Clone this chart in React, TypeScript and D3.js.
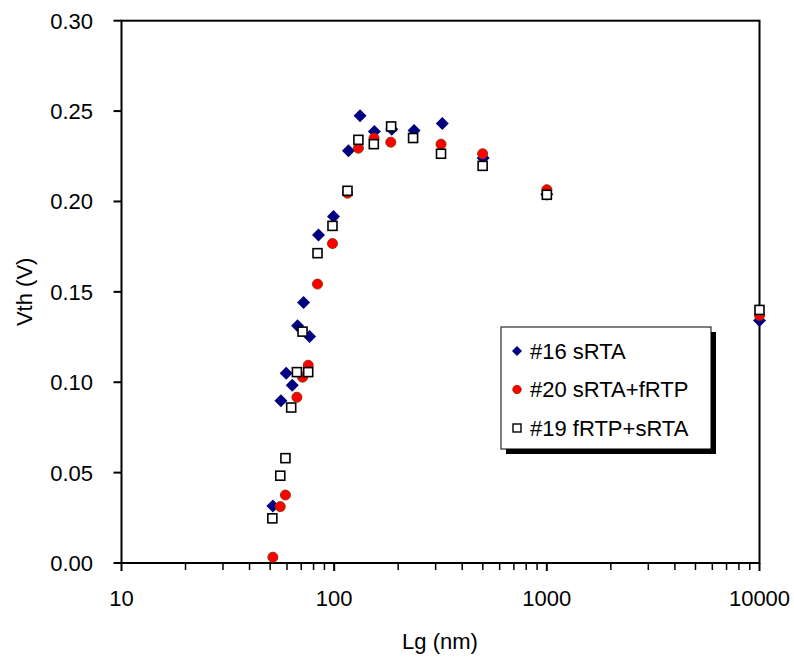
import React from "react";
import * as d3 from "d3";

const xTicks = [10, 100, 1000, 10000];
const yTicks = [0, 0.05, 0.1, 0.15, 0.2, 0.25, 0.3];

const s16X = [51.5, 56.2, 59.5, 63.5, 67.3, 71.8, 76.6, 84.4, 99.3, 116.7, 132.4, 154.6, 186.6, 237.5, 322.5, 502, 1000, 10000];
const s16Y = [0.0316, 0.0898, 0.105, 0.0984, 0.1312, 0.1441, 0.1253, 0.1815, 0.1917, 0.228, 0.2474, 0.2387, 0.24, 0.2393, 0.2432, 0.224, 0.204, 0.1341];

const s20X = [51.5, 55.8, 59, 66.8, 71, 75.5, 83.5, 98.2, 115.5, 130, 154, 184.6, 318, 499, 1000, 10000];
const s20Y = [0.0032, 0.0312, 0.0376, 0.0917, 0.1028, 0.1094, 0.1543, 0.1767, 0.2046, 0.2295, 0.235, 0.2328, 0.2317, 0.2264, 0.2065, 0.137];

const s19X = [51.2, 55.8, 59, 62.8, 66.8, 71, 75.5, 83.5, 98.2, 115.5, 130, 153.6, 185.3, 235, 318, 499, 1000, 10000];
const s19Y = [0.0247, 0.0483, 0.058, 0.086, 0.1056, 0.128, 0.1056, 0.1714, 0.1865, 0.2059, 0.2341, 0.2317, 0.2415, 0.2351, 0.2264, 0.2197, 0.2037, 0.14];

const legendLabels = ["#16 sRTA", "#20 sRTA+fRTP", "#19 fRTP+sRTA"];

const FONT = "'Liberation Sans', Arial, sans-serif";
const FS = 22;

export default function App() {
  const left = 121.5, right = 759.5, top = 20.7, bottom = 563;
  const x = d3.scaleLog().domain([10, 10000]).range([left, right]);
  const y = d3.scaleLinear().domain([0, 0.3]).range([bottom, top]);

  const minorTicks: number[] = [];
  for (let d = 10; d < 10000; d *= 10) {
    for (let k = 2; k <= 9; k++) minorTicks.push(d * k);
  }

  const diamond = (cx: number, cy: number, r: number) =>
    `M${cx},${cy - r}L${cx + r},${cy}L${cx},${cy + r}L${cx - r},${cy}Z`;

  const s16 = s16X.map((v, i) => [v, s16Y[i]]);
  const s20 = s20X.map((v, i) => [v, s20Y[i]]);
  const s19 = s19X.map((v, i) => [v, s19Y[i]]);

  const lg = { x: 501, y: 327, w: 210, h: 122 };
  const rows = [351, 389.5, 428];

  return (
    <svg width={794} height={658} style={{ position: "absolute", left: 0, top: 0, background: "#fff" }}>
      <rect x={0} y={0} width={794} height={658} fill="#fff" />
      {/* frame */}
      <rect x={left} y={top} width={right - left} height={bottom - top} fill="none" stroke="#000" strokeWidth={2} />
      {/* y ticks */}
      {yTicks.map((t) => (
        <g key={"y" + t}>
          <line x1={left - 8} x2={left} y1={y(t)} y2={y(t)} stroke="#000" strokeWidth={2} />
          <text x={93} y={y(t)} dy="0.36em" textAnchor="end" fontFamily={FONT} fontSize={FS}>
            {t.toFixed(2)}
          </text>
        </g>
      ))}
      {/* x ticks */}
      {minorTicks.map((t) => (
        <line key={"m" + t} x1={x(t)} x2={x(t)} y1={bottom} y2={bottom + 7} stroke="#000" strokeWidth={1.5} />
      ))}
      {xTicks.map((t) => (
        <g key={"x" + t}>
          <line x1={x(t)} x2={x(t)} y1={bottom} y2={bottom + 8} stroke="#000" strokeWidth={2} />
          <text x={x(t)} y={598} dy="0.36em" textAnchor="middle" fontFamily={FONT} fontSize={FS}>
            {String(t)}
          </text>
        </g>
      ))}
      {/* axis titles */}
      <text x={440} y={641} dy="0.36em" textAnchor="middle" fontFamily={FONT} fontSize={FS}>
        Lg (nm)
      </text>
      <text
        transform={`translate(24,${(top + bottom) / 2}) rotate(-90)`}
        textAnchor="middle"
        dy="0.36em"
        fontFamily={FONT}
        fontSize={FS}
      >
        Vth (V)
      </text>
      {/* series */}
      {s16.map(([a, b], i) => (
        <path key={"d" + i} d={diamond(x(a), y(b), 6.5)} fill="#000080" />
      ))}
      {s20.map(([a, b], i) => (
        <circle key={"c" + i} cx={x(a)} cy={y(b)} r={5} fill="#FF0000" stroke="#993300" strokeWidth={1} />
      ))}
      {s19.map(([a, b], i) => (
        <rect key={"s" + i} x={x(a) - 4.5} y={y(b) - 4.5} width={9} height={9} fill="#fff" stroke="#000" strokeWidth={1.6} />
      ))}
      {/* legend */}
      <rect x={lg.x + 5} y={lg.y + 5} width={lg.w} height={lg.h} fill="#000" />
      <rect x={lg.x} y={lg.y} width={lg.w} height={lg.h} fill="#fff" stroke="#000" strokeWidth={1} />
      <path d={diamond(517, rows[0], 5)} fill="#000080" />
      <circle cx={517} cy={rows[1]} r={4.2} fill="#FF0000" stroke="#993300" strokeWidth={1} />
      <rect x={513} y={rows[2] - 4} width={8} height={8} fill="#fff" stroke="#000" strokeWidth={1.4} />
      {legendLabels.map((l, i) => (
        <text key={l} x={530} y={rows[i]} dy="0.36em" fontFamily={FONT} fontSize={FS}>
          {l}
        </text>
      ))}
    </svg>
  );
}
